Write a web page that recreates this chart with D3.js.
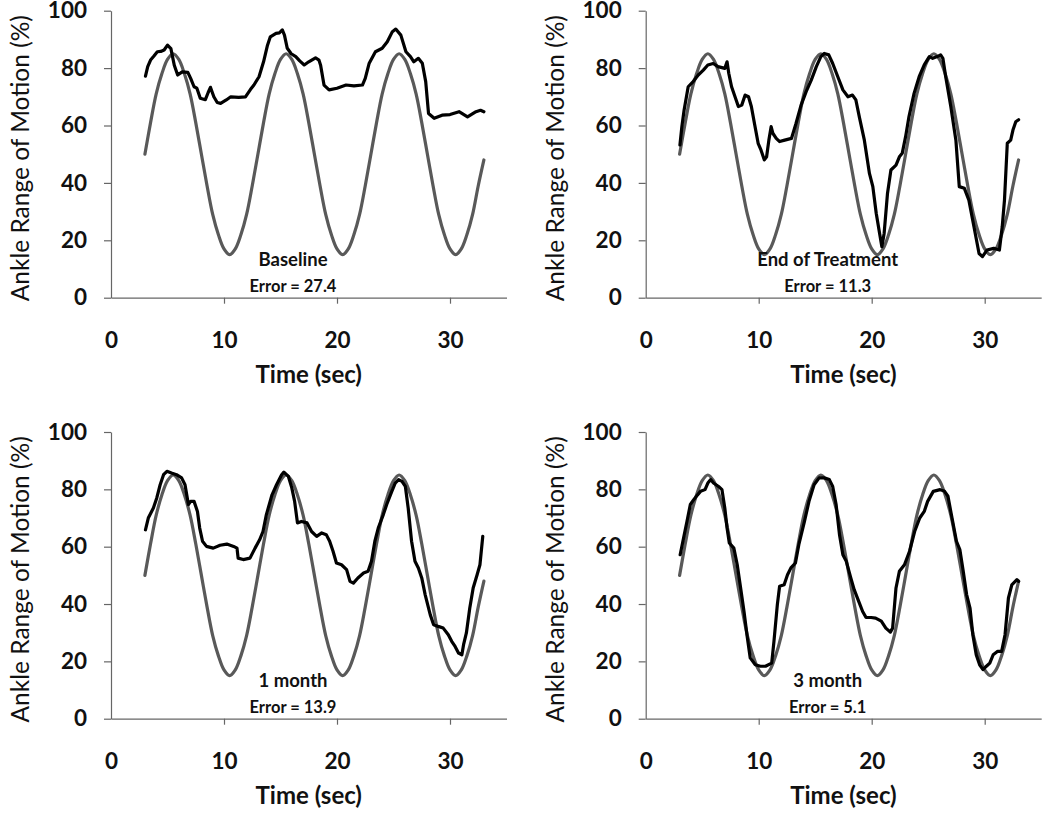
<!DOCTYPE html>
<html><head><meta charset="utf-8">
<script src="https://cdn.jsdelivr.net/npm/d3@7/dist/d3.min.js"></script>
<style>
html,body{margin:0;padding:0;background:#fff;}
svg{display:block;}
text{font-family:Lato,"Open Sans",sans-serif;fill:#111;}
</style></head><body>
<svg id="chart" width="1050" height="816"></svg>
<script>
// ---------- data ----------
const timeTicks = [0, 10, 20, 30];
const romTicks = [0, 20, 40, 60, 80, 100];
const xTitle = "Time (sec)";
const yTitle = "Ankle Range of Motion (%)";
const panelNames = ["Baseline", "End of Treatment", "1 month", "3 month"];
const panelErrors = ["27.4", "11.3", "13.9", "5.1"];

// target (grey) trajectory, read at 0.5 s steps
const targetTime = [3,3.5,4,4.5,5,5.5,6,6.5,7,7.5,8,8.5,9,9.5,10,10.5,11,11.5,12,12.5,
  13,13.5,14,14.5,15,15.5,16,16.5,17,17.5,18,18.5,19,19.5,20,20.5,21,21.5,22,22.5,
  23,23.5,24,24.5,25,25.5,26,26.5,27,27.5,28,28.5,29,29.5,30,30.5,31,31.5,32,32.5,33];
const targetRom = [50,61,71,78,83,85,83,78,71,61,50,39,29,22,17,15,17,22,29,39,
  50,61,71,78,83,85,83,78,71,61,50,39,29,22,17,15,17,22,29,39,
  50,61,71,78,83,85,83,78,71,61,50,39,29,22,17,15,17,22,29,39,48];

// tracked (black) trajectories: [time, ROM]
const baselineTrace = [[3.05,77.2],[3.25,80.5],[3.5,82.8],[3.8,84.2],[4.1,85.7],[4.4,85.8],[4.7,86.3],[5.0,88],[5.3,86.8],[5.6,81],[5.9,77.6],[6.3,78.7],[6.8,78.5],[7.05,76.4],[7.35,73.5],[7.6,73],[7.9,69.5],[8.35,69],[8.6,71.5],[8.8,73.3],[9.1,70],[9.4,68],[9.7,67.7],[10.2,68.9],[10.6,70],[11.3,69.8],[11.9,70],[12.35,72.6],[12.65,74.1],[13.1,77],[13.5,82.2],[13.85,88],[14.1,90.9],[14.6,92.1],[14.9,92.3],[15.16,93.3],[15.35,91.5],[15.6,86.9],[15.95,85],[16.35,84],[16.7,82.5],[17.1,81.1],[17.5,82.2],[18.1,83.6],[18.4,82.8],[18.55,81],[18.85,74.1],[19.3,72.4],[20.0,73],[20.8,74.1],[21.5,73.8],[22.25,74.1],[22.5,76.4],[22.85,81.7],[23.4,85.7],[24.0,86.9],[24.45,89.2],[24.9,92.7],[25.2,93.6],[25.65,91.5],[26.1,85.7],[26.5,84],[26.8,82.2],[27.2,83.4],[27.55,81.7],[27.85,75.3],[28.1,64.2],[28.6,62.5],[29.3,63.6],[30.0,63.8],[30.8,64.8],[31.55,63],[32.3,64.8],[32.7,65.3],[33.0,64.8]];

const endTreatmentTrace = [[3.03,53.2],[3.2,59.6],[3.4,65.4],[3.76,73.5],[4.2,75.3],[4.65,77.6],[5.1,79.3],[5.5,81.1],[5.97,81.6],[6.4,80.5],[7.0,79.9],[7.2,82.2],[7.35,78.2],[7.6,73.5],[7.95,69.5],[8.2,66.6],[8.5,67.1],[8.8,70.6],[9.1,70],[9.35,66.6],[9.65,60.2],[9.95,53.8],[10.2,51.5],[10.5,48],[10.7,49.1],[10.9,54.9],[11.1,59.6],[11.25,57.3],[11.55,55.5],[11.85,54.4],[12.3,54.9],[12.9,55.5],[13.3,60.7],[13.75,67.1],[14.2,71.8],[14.65,75.8],[15.1,80.5],[15.5,84],[15.8,85.1],[16.2,84.6],[16.55,81.6],[17.0,77],[17.45,72.4],[17.9,70],[18.3,70.6],[18.6,68.9],[18.9,63.1],[19.35,54.9],[19.8,43.3],[20.1,38.7],[20.4,29.4],[20.7,22.4],[20.9,17.8],[21.1,22.4],[21.4,36.4],[21.7,44.5],[22.15,46.2],[22.45,49.1],[22.7,50.3],[23.0,56.1],[23.3,63.1],[23.75,71.2],[24.2,77],[24.65,81.1],[25.1,84],[25.4,83.4],[25.8,84],[26.1,84.6],[26.3,83.4],[26.55,77],[27.0,66.6],[27.45,54.9],[27.75,38.7],[28.2,38.1],[28.6,34],[29.05,24.7],[29.5,15.4],[29.8,14.3],[30.2,16.6],[30.8,17.2],[31.3,16.6],[31.55,24.7],[31.75,34],[32.0,53.8],[32.3,54.9],[32.5,58.4],[32.75,61.3],[33.0,62]];

const oneMonthTrace = [[3.05,65.9],[3.3,70],[3.75,73.5],[4.05,77],[4.35,81.6],[4.65,85.1],[4.95,86.3],[5.35,85.7],[5.8,85.1],[6.25,84],[6.55,81.6],[6.85,74.7],[7.05,75.8],[7.35,75.8],[7.65,72.3],[7.85,66.5],[8.1,61.9],[8.45,60.1],[9.05,59.5],[9.65,60.5],[10.25,60.9],[10.85,60.1],[11.15,59.5],[11.25,56],[11.7,55.5],[12.3,56],[12.75,59.5],[13.15,62.4],[13.45,65.3],[13.75,71.2],[14.25,78.1],[14.65,81.6],[15.1,85.1],[15.3,86],[15.7,84.5],[16.0,80.5],[16.25,75.8],[16.5,68.3],[16.85,68.8],[17.35,68.3],[17.75,65.3],[18.2,63.6],[18.65,64.8],[19.05,64.2],[19.35,61.9],[19.65,58.4],[19.95,54.3],[20.4,53.7],[20.85,52],[21.15,47.9],[21.45,47.3],[21.85,49.1],[22.35,50.8],[22.75,51.4],[23.05,54.9],[23.35,61.9],[23.65,66.5],[24.1,71.2],[24.4,74.7],[24.85,79.3],[25.15,82.2],[25.45,83.4],[25.75,82.8],[26.05,81],[26.3,73.5],[26.6,61.9],[26.9,54.9],[27.2,52.6],[27.5,49.1],[27.8,43.3],[28.25,36.3],[28.55,32.8],[28.95,32.2],[29.4,31.6],[29.85,29.3],[30.15,27],[30.45,25.2],[30.75,22.9],[31.05,22.3],[31.2,25.8],[31.45,29.9],[31.75,38.6],[32.05,45.6],[32.4,50.2],[32.65,53.7],[32.9,63.6]];

const threeMonthTrace = [[3.05,57.2],[3.35,63],[3.65,68.8],[3.95,74.7],[4.25,76.4],[4.55,77.9],[4.85,79.3],[5.25,79.9],[5.5,82.2],[5.75,83.4],[6.0,82.2],[6.45,81],[6.75,79.9],[7.0,73.5],[7.2,66.5],[7.4,61.3],[7.8,59.5],[8.1,53.7],[8.4,45.6],[8.7,37.4],[9.0,28.1],[9.25,21.2],[9.7,18.8],[10.15,18.3],[10.6,18.3],[11.15,19.4],[11.35,27],[11.65,39.8],[11.85,46.2],[12.25,46.7],[12.55,50.2],[12.85,52.6],[13.25,54.3],[13.55,60.7],[14.05,68.8],[14.45,75.8],[14.9,81.6],[15.35,84],[15.8,84],[16.25,83.4],[16.55,81],[16.85,74.7],[17.15,64.2],[17.45,57.2],[17.75,54.9],[18.15,49.1],[18.45,45],[18.85,40.9],[19.2,37.4],[19.5,35.3],[19.95,35.3],[20.35,35.1],[20.85,34],[21.25,31.6],[21.65,30.2],[21.85,31.6],[22.15,45.6],[22.45,51.4],[22.9,53.7],[23.35,58.4],[23.8,65.3],[24.25,70],[24.65,72.3],[24.95,75.8],[25.45,79.3],[26.05,79.9],[26.45,79.3],[26.75,77.6],[27.05,71.2],[27.5,61.9],[27.8,59],[28.1,51.4],[28.4,43.3],[28.7,38.6],[28.95,29.3],[29.25,22.3],[29.55,18.8],[29.85,17.1],[30.15,18.3],[30.45,19.4],[30.75,22.3],[31.15,23.5],[31.5,23.5],[31.8,29.3],[32.1,42.1],[32.4,46.7],[32.85,48.5],[33.0,47.9]];

const traces = [baselineTrace, endTreatmentTrace, oneMonthTrace, threeMonthTrace];

// ---------- layout ----------
const panels = [
  {left: 111,   top: 10.7, bottom: 297.7},
  {left: 645.7, top: 10.7, bottom: 297.7},
  {left: 111,   top: 432,  bottom: 718.7},
  {left: 645.7, top: 432,  bottom: 718.7}
];
const pxPerSec = 11.3;

const svg = d3.select("#chart");
const target = targetTime.map((t, i) => [t, targetRom[i]]);

panels.forEach((p, i) => {
  const x = d3.scaleLinear().domain([0, 35]).range([p.left, p.left + 35 * pxPerSec]);
  const y = d3.scaleLinear().domain([0, 100]).range([p.bottom, p.top]);
  const g = svg.append("g");

  // y axis
  const ya = g.append("g").attr("transform", `translate(${x(0)},0)`)
    .call(d3.axisLeft(y).tickValues(romTicks).tickSize(7).tickSizeOuter(0).tickPadding(17));
  // x axis
  const xa = g.append("g").attr("transform", `translate(0,${y(0)})`)
    .call(d3.axisBottom(x).tickValues(timeTicks).tickSize(6).tickSizeOuter(0).tickPadding(28));
  [ya, xa].forEach(a => {
    a.select(".domain").attr("stroke", "#666").attr("stroke-width", 1.2);
    a.selectAll(".tick line").attr("stroke", "#666").attr("stroke-width", 1.2);
    a.selectAll(".tick text").style("font-family", "Lato, 'Open Sans', sans-serif")
      .style("font-size", "22.5px").style("font-weight", "700").attr("fill", "#111");
  });
  xa.selectAll(".tick").filter(d => d === 0).select("line").remove();

  // axis titles
  g.append("text").attr("x", (x(0) + x(35)) / 2).attr("y", y(0) + 85)
    .attr("text-anchor", "middle").style("font-size", "24px").style("font-weight", "700")
    .text(xTitle);
  g.append("text")
    .attr("transform", `translate(${x(0) - 82},${(y(0) + y(100)) / 2 + 4}) rotate(-90)`)
    .attr("text-anchor", "middle").style("font-size", "24.5px").style("font-weight", "400")
    .text(yTitle);

  const line = d3.line().x(d => x(d[0])).y(d => y(d[1]));

  // target (grey)
  g.append("path").datum(target)
    .attr("d", line.curve(d3.curveCatmullRom.alpha(0.5)))
    .attr("fill", "none").attr("stroke", "#595959").attr("stroke-width", 3.2)
    .attr("stroke-linecap", "round");
  // tracked (black)
  g.append("path").datum(traces[i])
    .attr("d", d3.line().x(d => x(d[0])).y(d => y(d[1]))(traces[i]))
    .attr("fill", "none").attr("stroke", "#000").attr("stroke-width", 3.2)
    .attr("stroke-linejoin", "round").attr("stroke-linecap", "round");

  // annotation
  const cx = x(0) + 182;
  g.append("text").attr("x", cx).attr("y", y(0) - 32).attr("text-anchor", "middle")
    .style("font-size", "18.5px").style("font-weight", "700").text(panelNames[i]);
  g.append("text").attr("x", cx).attr("y", y(0) - 6).attr("text-anchor", "middle")
    .style("font-size", "16.5px").style("font-weight", "700").text("Error = " + panelErrors[i]);
});
</script>
</body></html>
